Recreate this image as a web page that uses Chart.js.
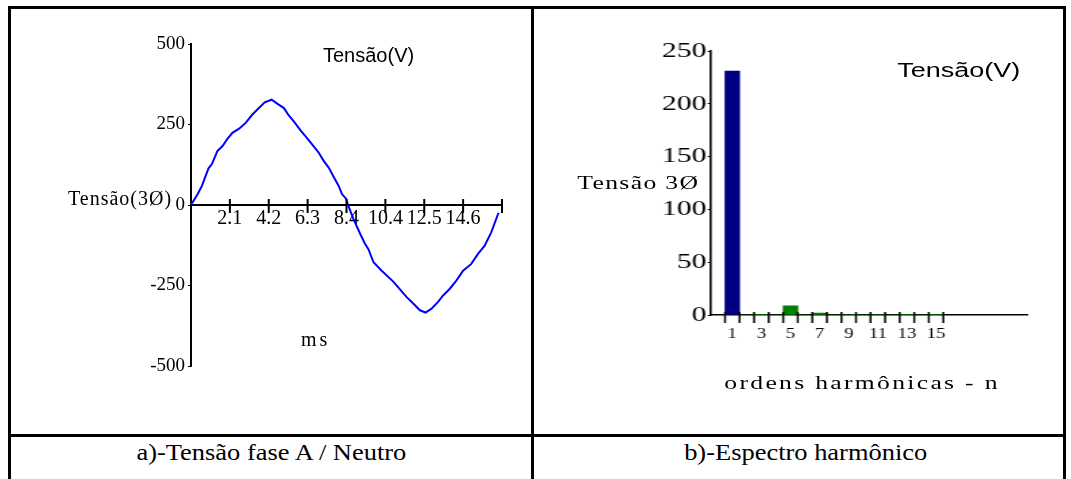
<!DOCTYPE html>
<html lang="pt">

<head>
  <meta charset="UTF-8">
  <title>Tensão fase A / Neutro e espectro harmônico</title>
  <script src="https://cdn.jsdelivr.net/npm/chart.js"></script>
  <style>
    body {
      margin: 0;
      background: #fff;
      font-family: 'Liberation Serif', serif;
    }

    #page {
      position: relative;
      width: 1071px;
      height: 479px;
      overflow: hidden;
    }

    .rule {
      position: absolute;
      background: #000;
    }

    .cell {
      position: absolute;
      top: 9px;
      height: 425px;
    }

    #cellB {
      transform: scaleX(1.35);
      transform-origin: 0 0;
    }

    .lbl {
      position: absolute;
      white-space: nowrap;
      color: #000;
      line-height: 1;
    }

    .sans {
      font-family: 'Liberation Sans', Arial, sans-serif;
    }

    .cap {
      position: absolute;
      top: 437px;
      height: 32px;
      line-height: 32px;
      text-align: center;
      font-size: 23px;
    }

    .cap span {
      display: inline-block;
      transform: scaleX(1.15);
    }
  </style>
</head>

<body>
  <div id="page">
    <div class="rule" style="left:8px;top:6px;width:3px;height:473px"></div>
    <div class="rule" style="left:8px;top:6px;width:1058px;height:3px"></div>
    <div class="rule" style="left:531px;top:6px;width:3px;height:473px"></div>
    <div class="rule" style="left:1063px;top:6px;width:3px;height:473px"></div>
    <div class="rule" style="left:8px;top:434px;width:1058px;height:3px"></div>

    <div class="cell" id="cellA" style="left:11px;width:520px">
      <canvas id="waveChart"></canvas>
      <div class="lbl sans" style="left:312px;top:36px;font-size:20px">Tensão(V)</div>
      <div class="lbl" style="left:57px;top:179px;font-size:20px;letter-spacing:1px">Tensão(3Ø)</div>
      <div class="lbl" style="left:290px;top:320px;font-size:20px;letter-spacing:3px">ms</div>
    </div>

    <div class="cell" id="cellB" style="left:534px;width:392px">
      <canvas id="specChart"></canvas>
      <div class="lbl sans" style="left:269px;top:51px;font-size:20px">Tensão(V)</div>
      <div class="lbl" style="left:32px;top:164px;font-size:19px;letter-spacing:1px">Tensão 3Ø</div>
      <div class="lbl" style="left:141px;top:364px;font-size:19px;letter-spacing:1.7px">ordens harmônicas - n</div>
    </div>

    <div class="cap" style="left:11px;width:520px"><span>a)-Tensão fase A / Neutro</span></div>
    <div class="cap" style="left:541px;width:529px"><span>b)-Espectro harmônico</span></div>
  </div>

  <script>
    // phase A to neutral voltage over one cycle (ms, V)
    const timeMs = [
      0, 0.36, 0.59, 0.8, 0.94, 1.12, 1.42, 1.69, 1.96, 2.22, 2.58, 2.93, 3.29, 3.64, 3.95,
      4.32, 4.62, 4.98, 5.24, 5.51, 5.87, 6.13, 6.49, 6.84, 7.11, 7.38, 7.64, 7.91, 8.09, 8.32,
      8.4, 8.71, 9.07, 9.33, 9.51, 9.78, 10.22, 10.84, 11.2, 11.56, 11.91, 12.27, 12.57, 12.89,
      13.24, 13.51, 13.87, 14.22, 14.58, 15.02, 15.38, 15.73, 16.09, 16.48
    ];
    const voltsA = [
      0, 34, 60, 93, 114, 127, 168, 183, 206, 224, 237, 255, 281, 301, 319,
      327, 315, 301, 278, 260, 232, 214, 188, 163, 137, 116, 88, 60, 34, 19,
      2, -44, -90, -121, -137, -178, -204, -238, -262, -286, -306, -327, -334, -322,
      -301, -281, -260, -235, -204, -183, -152, -127, -85, -24
    ];
    const msTicks = [0, 2.083, 4.167, 6.25, 8.333, 10.417, 12.5, 14.583, 16.667];
    const msTickLabels = ['', '2.1', '4.2', '6.3', '8.4', '10.4', '12.5', '14.6', ''];
    const voltTicks = [-500, -250, 0, 250, 500];

    // harmonic spectrum, orders 1..15 (V)
    const orders = [1, 2, 3, 4, 5, 6, 7, 8, 9, 10, 11, 12, 13, 14, 15];
    const harmonicVolts = [231, 0, 0.6, 0, 8.6, 0, 1.8, 0, 0.5, 0, 0.5, 0, 0.4, 0, 0.3];
    const spectrumTicks = [0, 50, 100, 150, 200, 250];

    const serif = 'Liberation Serif';

    // tick marks that cross the horizontal axis line at y = 0
    function crossTicks(up, down, width, keep, shift) {
      return {
        id: 'crossTicks',
        afterDatasetsDraw(chart) {
          const xs = chart.scales.x;
          const y0 = chart.scales.y.getPixelForValue(0);
          const ctx = chart.ctx;
          ctx.save();
          ctx.strokeStyle = '#000';
          ctx.lineWidth = width;
          ctx.beginPath();
          xs.ticks.forEach(t => {
            if (!keep(t.value)) return;
            const x = xs.getPixelForValue(t.value + shift);
            ctx.moveTo(x, y0 - up);
            ctx.lineTo(x, y0 + down);
          });
          ctx.stroke();
          ctx.restore();
        }
      };
    }

    new Chart(document.getElementById('waveChart'), {
      type: 'line',
      data: {
        datasets: [{
          data: timeMs.map((t, i) => ({ x: t, y: voltsA[i] })),
          borderColor: '#0000ff',
          borderWidth: 2,
          pointRadius: 0,
          tension: 0,
        }],
      },
      options: {
        responsive: true,
        maintainAspectRatio: false,
        animation: false,
        layout: { padding: { left: 134, right: 29, top: 35, bottom: 68 } },
        plugins: { legend: { display: false }, tooltip: { enabled: false } },
        scales: {
          x: {
            type: 'linear',
            position: { y: 0 },
            min: 0,
            max: msTicks[msTicks.length - 1],
            afterBuildTicks: (scale) => { scale.ticks = msTicks.map(v => ({ value: v })); },
            afterFit: (scale) => { scale.height = 0; },
            grid: { display: false, drawTicks: false },
            border: { color: '#000', width: 2 },
            ticks: {
              autoSkip: false,
              maxRotation: 0,
              padding: 2,
              color: '#000',
              font: { family: serif, size: 20 },
              callback: (v, i) => msTickLabels[i],
            },
          },
          y: {
            min: -500,
            max: 500,
            afterBuildTicks: (scale) => { scale.ticks = voltTicks.map(v => ({ value: v })); },
            afterFit: (scale) => { scale.width = 46; },
            grid: { drawOnChartArea: false, tickLength: 3, color: '#000', lineWidth: 1 },
            border: { color: '#000', width: 2 },
            ticks: { padding: 3, color: '#000', font: { family: serif, size: 19 } },
          },
        },
      },
      plugins: [crossTicks(6, 8, 2, v => v !== 0, 0)],
    });

    new Chart(document.getElementById('specChart'), {
      type: 'bar',
      data: {
        datasets: [{
          data: orders.map((n, i) => ({ x: n, y: harmonicVolts[i] })),
          backgroundColor: orders.map(n => (n === 1 ? '#000080' : '#008000')),
          barPercentage: 1,
          categoryPercentage: 1,
        }],
      },
      options: {
        responsive: true,
        maintainAspectRatio: false,
        animation: false,
        layout: { padding: { left: 92.7, right: 26.8, top: 42, bottom: 119 } },
        plugins: { legend: { display: false }, tooltip: { enabled: false } },
        scales: {
          x: {
            type: 'linear',
            position: { y: 0 },
            offset: false,
            min: -0.5,
            max: 21.25,
            // one tick per order plus the one before it; marks sit half a step to the right
            afterBuildTicks: (scale) => { scale.ticks = [0, ...orders].map(v => ({ value: v })); },
            afterFit: (scale) => { scale.height = 0; },
            grid: { display: false, drawTicks: false },
            border: { color: '#000', width: 1.6 },
            ticks: {
              autoSkip: false,
              maxRotation: 0,
              padding: 11,
              color: '#000',
              font: { family: serif, size: 14 },
              callback: (v) => (v % 2 === 1 ? String(v) : ''),
            },
          },
          y: {
            min: 0,
            max: 250,
            afterBuildTicks: (scale) => { scale.ticks = spectrumTicks.map(v => ({ value: v })); },
            afterFit: (scale) => { scale.width = 38; },
            grid: { drawOnChartArea: false, tickLength: 2, color: '#000', lineWidth: 1 },
            border: { color: '#000', width: 1.6 },
            ticks: { padding: 1, color: '#000', font: { family: serif, size: 22 } },
          },
        },
      },
      plugins: [crossTicks(3, 8, 1.5, () => true, 0.5)],
    });
  </script>
</body>

</html>
